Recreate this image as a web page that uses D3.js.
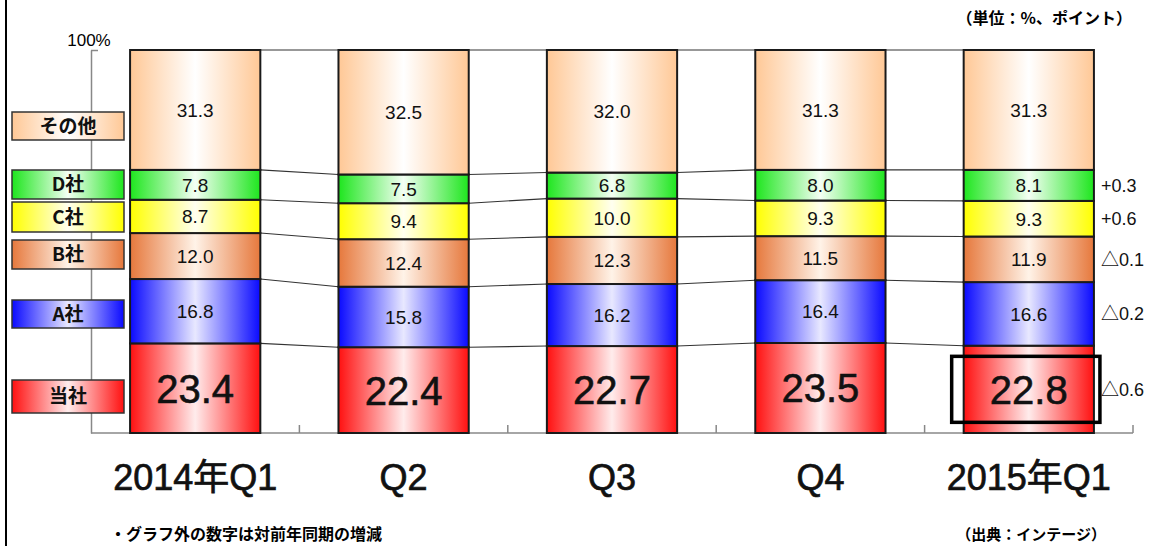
<!DOCTYPE html>
<html>
<head>
<meta charset="utf-8">
<script src="https://cdn.jsdelivr.net/npm/d3@7"></script>
<style>
  body { margin: 0; background: #fff; }
  svg { display: block; }
</style>
</head>
<body>
<div class="chart"></div>
<script>
// Taille de la visualisation
const width = 1158;
const height = 546;
const margin = { top: 50, right: 25, bottom: 113, left: 91 };

// Données (en %), de bas en haut de la pile
const quarters = ['2014年Q1', 'Q2', 'Q3', 'Q4', '2015年Q1'];
const companies = ['当社', 'A社', 'B社', 'C社', 'D社', 'その他'];
const ourShare   = [23.4, 22.4, 22.7, 23.5, 22.8];
const shareA     = [16.8, 15.8, 16.2, 16.4, 16.6];
const shareB     = [12.0, 12.4, 12.3, 11.5, 11.9];
const shareC     = [8.7, 9.4, 10.0, 9.3, 9.3];
const shareD     = [7.8, 7.5, 6.8, 8.0, 8.1];
const shareOther = [31.3, 32.5, 32.0, 31.3, 31.3];
// Variations sur un an (affichées à droite du dernier bâton)
const yoyLabels = ['△0.6', '△0.2', '△0.1', '+0.6', '+0.3'];

const seriesValues = [ourShare, shareA, shareB, shareC, shareD, shareOther];

// Couleurs des dégradés: [bord, centre]
const gradColors = {
  '当社': ['#ff1010', '#ffecec'],
  'A社': ['#0a0aff', '#e8e8ff'],
  'B社': ['#e6783c', '#fff3e8'],
  'C社': ['#ffff00', '#fffff0'],
  'D社': ['#1ee61e', '#f4fff4'],
  'その他': ['#ffc896', '#ffffff']
};

// Légende à gauche : position verticale [haut, bas]
const legendBoxes = {
  'その他': [112, 140], 'D社': [170, 199], 'C社': [202, 232],
  'B社': [240, 269], 'A社': [300, 328], '当社': [380, 413]
};

const fontNum = '"Liberation Sans", Arial, "Noto Sans CJK JP", sans-serif';
const fontJp = '"Noto Sans CJK JP", "Liberation Sans", sans-serif';

// Table pour d3.stack
const table = quarters.map((q, i) => {
  const row = { quarter: q };
  companies.forEach((c, k) => row[c] = seriesValues[k][i]);
  return row;
});
const stacked = d3.stack().keys(companies)(table);

const svg = d3.select('.chart').append('svg')
  .attr('width', width)
  .attr('height', height);

const defs = svg.append('defs');
companies.forEach((c, k) => {
  const g = defs.append('linearGradient')
    .attr('id', 'grad' + k)
    .attr('x1', 0).attr('x2', 1).attr('y1', 0).attr('y2', 0);
  g.append('stop').attr('offset', 0).attr('stop-color', gradColors[c][0]);
  g.append('stop').attr('offset', 0.5).attr('stop-color', gradColors[c][1]);
  g.append('stop').attr('offset', 1).attr('stop-color', gradColors[c][0]);
});

// Échelles
const x = d3.scaleBand()
  .domain(quarters)
  .range([margin.left, width - margin.right])
  .paddingInner(0.375)
  .paddingOuter(0.1875);

const y = d3.scaleLinear()
  .domain([0, 100])
  .range([height - margin.bottom, margin.top]);

// Bordure gauche
svg.append('line')
  .attr('x1', 6).attr('x2', 6).attr('y1', 0).attr('y2', height)
  .attr('stroke', '#000').attr('stroke-width', 2);

// Axe vertical (seulement la ligne et le trait à 100%)
svg.append('g')
  .attr('transform', `translate(${margin.left},0)`)
  .call(d3.axisRight(y).tickValues([100]).tickSize(7).tickSizeOuter(0).tickFormat(''))
  .call(g => g.selectAll('line, path').attr('stroke', '#888').attr('stroke-width', 1.5));

svg.append('text')
  .attr('x', 89).attr('y', 46)
  .attr('text-anchor', 'middle')
  .style('font', `17px ${fontNum}`)
  .text('100%');

// Axe horizontal : traits de séparation vers le haut
const boundaries = quarters.map(q => x(q) - x.step() * x.paddingInner() / 2)
  .concat([width - margin.right]);
svg.append('line')
  .attr('x1', margin.left).attr('x2', width - margin.right)
  .attr('y1', y(0)).attr('y2', y(0))
  .attr('stroke', '#888').attr('stroke-width', 1.5);
svg.append('g').selectAll('line')
  .data(boundaries.slice(1))
  .join('line')
    .attr('x1', d => d).attr('x2', d => d)
    .attr('y1', y(0)).attr('y2', y(0) - 8)
    .attr('stroke', '#888').attr('stroke-width', 1.5);

// Lignes de liaison entre les bâtons (à chaque frontière de la pile)
const levels = stacked.map(s => s.map(d => d[1]));
const links = [];
levels.forEach(lv => {
  for (let i = 0; i < quarters.length - 1; i++) {
    links.push({ x1: x(quarters[i]) + x.bandwidth(), y1: y(lv[i]),
                 x2: x(quarters[i + 1]), y2: y(lv[i + 1]) });
  }
});
svg.append('g').selectAll('line')
  .data(links)
  .join('line')
    .attr('x1', d => d.x1).attr('y1', d => d.y1)
    .attr('x2', d => d.x2).attr('y2', d => d.y2)
    .attr('stroke', '#333').attr('stroke-width', 1.1);

// Bâtons empilés
const layers = svg.append('g').selectAll('g')
  .data(stacked)
  .join('g')
    .attr('fill', (d, k) => `url(#grad${k})`);

layers.selectAll('rect')
  .data(d => d.map(p => ({ p, key: d.key })))
  .join('rect')
    .attr('x', d => x(d.p.data.quarter))
    .attr('y', d => y(d.p[1]))
    .attr('width', x.bandwidth())
    .attr('height', d => y(d.p[0]) - y(d.p[1]))
    .attr('stroke', '#1a1a1a')
    .attr('stroke-width', 2);

// Valeurs dans les bâtons
layers.selectAll('text')
  .data(d => d.map(p => ({ p, key: d.key })))
  .join('text')
    .attr('x', d => x(d.p.data.quarter) + x.bandwidth() / 2)
    .attr('y', d => y((d.p[0] + d.p[1]) / 2))
    .attr('dy', '0.36em')
    .attr('text-anchor', 'middle')
    .attr('fill', '#111')
    .attr('stroke', d => d.key === '当社' ? '#111' : 'none')
    .attr('stroke-width', 0.6)
    .style('font', d => d.key === '当社' ? `40px ${fontNum}` : `19px ${fontNum}`)
    .text(d => d.p.data[d.key].toFixed(1));

// Cadre de mise en évidence du dernier trimestre
const lastQ = quarters[quarters.length - 1];
svg.append('rect')
  .attr('x', x(lastQ) - 12)
  .attr('y', y(ourShare[4] / 2) - 33)
  .attr('width', x.bandwidth() + 18)
  .attr('height', 66)
  .attr('fill', 'none')
  .attr('stroke', '#000')
  .attr('stroke-width', 3.5);

// Variations à droite
const lastStack = stacked.map(s => s[quarters.length - 1]);
svg.append('g').selectAll('text')
  .data(yoyLabels)
  .join('text')
    .attr('x', x(lastQ) + x.bandwidth() + 7)
    .attr('y', (d, k) => y((lastStack[k][0] + lastStack[k][1]) / 2))
    .attr('dy', '0.36em')
    .attr('fill', '#111')
    .style('font', `18px ${fontNum}`)
    .text(d => d);

// Libellés des trimestres
svg.append('g').selectAll('text')
  .data(quarters)
  .join('text')
    .attr('x', d => x(d) + x.bandwidth() / 2)
    .attr('y', 490)
    .attr('text-anchor', 'middle')
    .attr('fill', '#111')
    .attr('stroke', '#111')
    .attr('stroke-width', 0.7)
    .style('font', `36px ${fontNum}`)
    .text(d => d);

// Légende
const legend = svg.append('g').selectAll('g')
  .data(companies)
  .join('g');
legend.append('rect')
  .attr('x', 12).attr('width', 112)
  .attr('y', d => legendBoxes[d][0])
  .attr('height', d => legendBoxes[d][1] - legendBoxes[d][0])
  .attr('fill', (d, k) => `url(#grad${k})`)
  .attr('stroke', '#333').attr('stroke-width', 1.5);
legend.append('text')
  .attr('x', 68)
  .attr('y', d => (legendBoxes[d][0] + legendBoxes[d][1]) / 2)
  .attr('dy', '0.36em')
  .attr('text-anchor', 'middle')
  .attr('fill', '#111')
  .style('font', `bold 19px ${fontJp}`)
  .text(d => d);

// Textes annexes
svg.append('text')
  .attr('x', 1132).attr('y', 24)
  .attr('text-anchor', 'end')
  .style('font', `bold 16px ${fontJp}`)
  .text('（単位：%、ポイント）');

svg.append('text')
  .attr('x', 110).attr('y', 540)
  .style('font', `bold 16px ${fontJp}`)
  .text('・グラフ外の数字は対前年同期の増減');

svg.append('text')
  .attr('x', 1106).attr('y', 540)
  .attr('text-anchor', 'end')
  .style('font', `bold 15px ${fontJp}`)
  .text('（出典：インテージ）');
</script>
</body>
</html>
